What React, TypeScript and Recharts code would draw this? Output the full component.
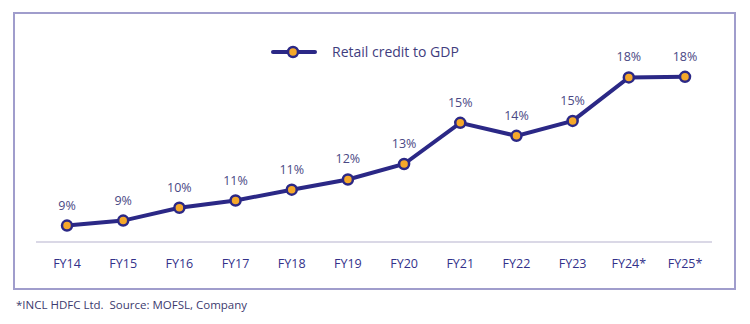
import React from 'react';
import { LineChart, Line, XAxis, YAxis, LabelList } from 'recharts';

const years = ['FY14', 'FY15', 'FY16', 'FY17', 'FY18', 'FY19', 'FY20', 'FY21', 'FY22', 'FY23', 'FY24*', 'FY25*'];
const retailCredit = [9.0, 9.3, 10.08, 10.52, 11.18, 11.8, 12.74, 15.24, 14.45, 15.36, 18.0, 18.04];
const shownLabels = ['9%', '9%', '10%', '11%', '11%', '12%', '13%', '15%', '14%', '15%', '18%', '18%'];

const NAVY = '#2b2886';
const ORANGE = '#f5a82a';
const FONT = '"Open Sans", sans-serif';

const chartData = years.map((year, i) => ({
  year,
  value: retailCredit[i],
  label: shownLabels[i],
}));

// legend sits in the page, not in the chart, so it doesn't eat plot height
const LegendBox = () => (
  <div style={{ position: 'absolute', left: 271, top: 42, display: 'flex', alignItems: 'center', fontFamily: FONT }}>
    <svg width={46} height={14}>
      <line x1={2} y1={7} x2={44} y2={7} stroke={NAVY} strokeWidth={4} strokeLinecap="round" />
      <circle cx={22} cy={7} r={5} fill={ORANGE} stroke={NAVY} strokeWidth={2.5} />
    </svg>
    <span style={{ marginLeft: 15, fontSize: 14, color: '#3f3d7e' }}>Retail credit to GDP</span>
  </div>
);

export default function App() {
  return (
    <div style={{ position: 'absolute', left: 0, top: 0, width: 750, height: 324, background: '#fff' }}>
      <div
        style={{
          position: 'absolute',
          left: 13,
          top: 12,
          width: 723,
          height: 278,
          boxSizing: 'border-box',
          border: '2px solid #a09dcc',
        }}
      />
      <LineChart width={750} height={324} data={chartData} margin={{ top: 61, right: 38, bottom: 52, left: 36 }}>
        <XAxis
          dataKey="year"
          padding={{ left: 31, right: 27 }}
          axisLine={{ stroke: '#dad8e6', strokeWidth: 2 }}
          tickLine={false}
          tickSize={0}
          tickMargin={17}
          height={30}
          interval={0}
          tick={{ fill: '#33318a', fontSize: 12.5, fontFamily: FONT }}
        />
        <YAxis hide domain={[8, 19]} />
        <Line
          type="linear"
          dataKey="value"
          stroke={NAVY}
          strokeWidth={4}
          dot={{ r: 5, fill: ORANGE, stroke: NAVY, strokeWidth: 2.5 }}
          activeDot={false}
          isAnimationActive={false}
        >
          <LabelList dataKey="label" position="top" offset={16} fill="#4a4884" fontSize={12.5} fontFamily={FONT} />
        </Line>
      </LineChart>
      <LegendBox />
      <div
        style={{
          position: 'absolute',
          left: 16,
          top: 297,
          fontFamily: FONT,
          fontSize: 11.5,
          color: '#3c3a6e',
          whiteSpace: 'pre',
        }}
      >
        {'*INCL HDFC Ltd.  Source: MOFSL, Company'}
      </div>
    </div>
  );
}
